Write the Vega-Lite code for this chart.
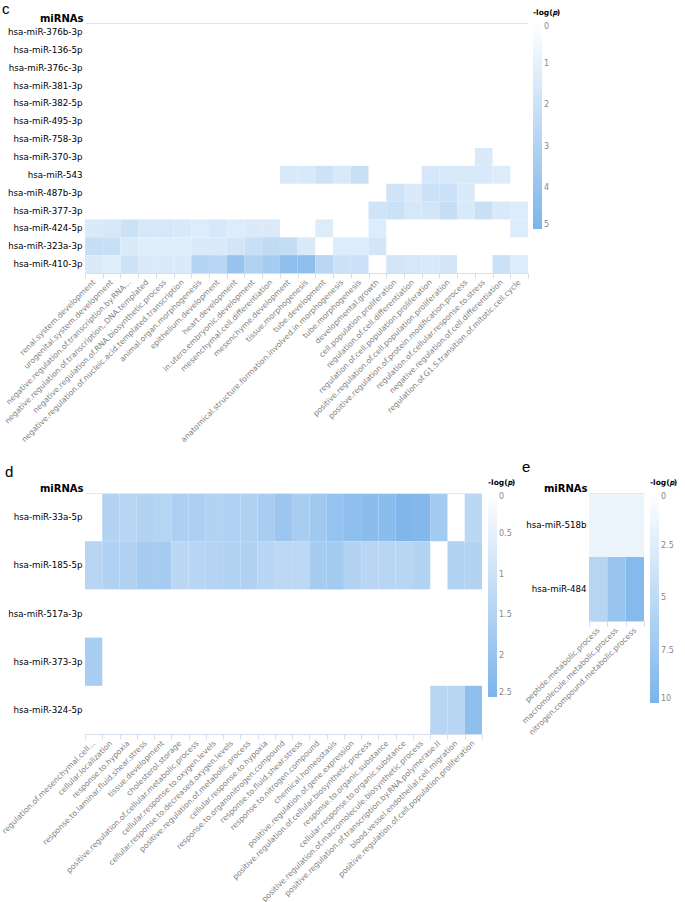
{
  "$schema": "https://vega.github.io/schema/vega-lite/v6.json",
  "background": "white",
  "padding": {"left": 0, "right": 0, "top": 2, "bottom": 0},
  "config": {
    "font": "DejaVu Sans",
    "view": {"stroke": null},
    "title": {"fontSize": 15, "fontWeight": "normal", "font": "Liberation Sans", "anchor": "start", "frame": "group", "offset": 0, "color": "#000"},
    "axisX": {"labelAngle": -45, "labelAlign": "right", "labelBaseline": "middle", "labelFontSize": 7.7, "labelColor": "#808080", "tickColor": "#d5deeb", "domainColor": "#d5deeb", "tickSize": 5, "tickBand": "extent", "title": null, "labelPadding": 3, "labelLimit": 400, "grid": false},
    "axisY": {"labelFontSize": 8.7, "labelColor": "#000", "ticks": false, "domain": false, "labelPadding": 3, "titleAngle": 0, "titleAlign": "right", "titleBaseline": "bottom", "titleFontSize": 10, "titleFontWeight": "bold", "titleColor": "#000", "titleX": -2, "titleY": 0, "labelLimit": 200, "grid": false},
    "legend": {"gradientThickness": 9, "titleFontSize": 7.5, "titleFontWeight": "bold", "titleColor": "#000", "labelFontSize": 8, "labelColor": "#888", "labelOffset": 10, "labelBaseline": "middle", "gradientStrokeWidth": 0, "titlePadding": 6.5, "padding": 0, "labelOverlap": false}
  },
  "datasets": {
    "c": [
      {"miRNA": "hsa-miR-370-3p", "term": "regulation.of.cellular.response.to.stress", "logp": 1.4},
      {"miRNA": "hsa-miR-543", "term": "mesenchyme.development", "logp": 1.5},
      {"miRNA": "hsa-miR-543", "term": "tissue.morphogenesis", "logp": 1.5},
      {"miRNA": "hsa-miR-543", "term": "tube.development", "logp": 1.9},
      {"miRNA": "hsa-miR-543", "term": "anatomical.structure.formation.involved.in.morphogenesis", "logp": 1.5},
      {"miRNA": "hsa-miR-543", "term": "tube.morphogenesis", "logp": 2.1},
      {"miRNA": "hsa-miR-543", "term": "regulation.of.cell.population.proliferation", "logp": 1.6},
      {"miRNA": "hsa-miR-543", "term": "positive.regulation.of.cell.population.proliferation", "logp": 1.5},
      {"miRNA": "hsa-miR-543", "term": "positive.regulation.of.protein.modification.process", "logp": 1.5},
      {"miRNA": "hsa-miR-543", "term": "regulation.of.cellular.response.to.stress", "logp": 1.5},
      {"miRNA": "hsa-miR-543", "term": "negative.regulation.of.cell.differentiation", "logp": 1.3},
      {"miRNA": "hsa-miR-487b-3p", "term": "cell.population.proliferation", "logp": 1.8},
      {"miRNA": "hsa-miR-487b-3p", "term": "regulation.of.cell.differentiation", "logp": 1.4},
      {"miRNA": "hsa-miR-487b-3p", "term": "regulation.of.cell.population.proliferation", "logp": 2.0},
      {"miRNA": "hsa-miR-487b-3p", "term": "positive.regulation.of.cell.population.proliferation", "logp": 2.0},
      {"miRNA": "hsa-miR-487b-3p", "term": "positive.regulation.of.protein.modification.process", "logp": 1.4},
      {"miRNA": "hsa-miR-377-3p", "term": "developmental.growth", "logp": 1.8},
      {"miRNA": "hsa-miR-377-3p", "term": "cell.population.proliferation", "logp": 2.0},
      {"miRNA": "hsa-miR-377-3p", "term": "regulation.of.cell.differentiation", "logp": 1.6},
      {"miRNA": "hsa-miR-377-3p", "term": "regulation.of.cell.population.proliferation", "logp": 1.7},
      {"miRNA": "hsa-miR-377-3p", "term": "positive.regulation.of.cell.population.proliferation", "logp": 2.2},
      {"miRNA": "hsa-miR-377-3p", "term": "positive.regulation.of.protein.modification.process", "logp": 1.5},
      {"miRNA": "hsa-miR-377-3p", "term": "regulation.of.cellular.response.to.stress", "logp": 2.1},
      {"miRNA": "hsa-miR-377-3p", "term": "negative.regulation.of.cell.differentiation", "logp": 1.5},
      {"miRNA": "hsa-miR-377-3p", "term": "regulation.of.G1.S.transition.of.mitotic.cell.cycle", "logp": 1.3},
      {"miRNA": "hsa-miR-424-5p", "term": "renal.system.development", "logp": 1.4},
      {"miRNA": "hsa-miR-424-5p", "term": "urogenital.system.development", "logp": 1.6},
      {"miRNA": "hsa-miR-424-5p", "term": "negative.regulation.of.transcription.by.RNA...", "logp": 2.0},
      {"miRNA": "hsa-miR-424-5p", "term": "negative.regulation.of.transcription,.DNA.templated", "logp": 1.6},
      {"miRNA": "hsa-miR-424-5p", "term": "negative.regulation.of.RNA.biosynthetic.process", "logp": 1.6},
      {"miRNA": "hsa-miR-424-5p", "term": "negative.regulation.of.nucleic.acid.templated.transcription", "logp": 1.5},
      {"miRNA": "hsa-miR-424-5p", "term": "animal.organ.morphogenesis", "logp": 1.3},
      {"miRNA": "hsa-miR-424-5p", "term": "epithelium.development", "logp": 1.6},
      {"miRNA": "hsa-miR-424-5p", "term": "heart.development", "logp": 1.3},
      {"miRNA": "hsa-miR-424-5p", "term": "in.utero.embryonic.development", "logp": 1.4},
      {"miRNA": "hsa-miR-424-5p", "term": "mesenchymal.cell.differentiation", "logp": 1.4},
      {"miRNA": "hsa-miR-424-5p", "term": "tube.development", "logp": 1.3},
      {"miRNA": "hsa-miR-424-5p", "term": "developmental.growth", "logp": 1.3},
      {"miRNA": "hsa-miR-424-5p", "term": "regulation.of.G1.S.transition.of.mitotic.cell.cycle", "logp": 1.3},
      {"miRNA": "hsa-miR-323a-3p", "term": "renal.system.development", "logp": 2.2},
      {"miRNA": "hsa-miR-323a-3p", "term": "urogenital.system.development", "logp": 2.1},
      {"miRNA": "hsa-miR-323a-3p", "term": "negative.regulation.of.transcription.by.RNA...", "logp": 1.4},
      {"miRNA": "hsa-miR-323a-3p", "term": "negative.regulation.of.transcription,.DNA.templated", "logp": 1.2},
      {"miRNA": "hsa-miR-323a-3p", "term": "negative.regulation.of.RNA.biosynthetic.process", "logp": 1.2},
      {"miRNA": "hsa-miR-323a-3p", "term": "negative.regulation.of.nucleic.acid.templated.transcription", "logp": 1.2},
      {"miRNA": "hsa-miR-323a-3p", "term": "animal.organ.morphogenesis", "logp": 1.4},
      {"miRNA": "hsa-miR-323a-3p", "term": "epithelium.development", "logp": 1.4},
      {"miRNA": "hsa-miR-323a-3p", "term": "heart.development", "logp": 1.7},
      {"miRNA": "hsa-miR-323a-3p", "term": "in.utero.embryonic.development", "logp": 2.1},
      {"miRNA": "hsa-miR-323a-3p", "term": "mesenchymal.cell.differentiation", "logp": 2.4},
      {"miRNA": "hsa-miR-323a-3p", "term": "mesenchyme.development", "logp": 2.3},
      {"miRNA": "hsa-miR-323a-3p", "term": "tissue.morphogenesis", "logp": 1.4},
      {"miRNA": "hsa-miR-323a-3p", "term": "anatomical.structure.formation.involved.in.morphogenesis", "logp": 1.3},
      {"miRNA": "hsa-miR-323a-3p", "term": "tube.morphogenesis", "logp": 1.3},
      {"miRNA": "hsa-miR-323a-3p", "term": "developmental.growth", "logp": 1.7},
      {"miRNA": "hsa-miR-410-3p", "term": "renal.system.development", "logp": 1.4},
      {"miRNA": "hsa-miR-410-3p", "term": "urogenital.system.development", "logp": 1.2},
      {"miRNA": "hsa-miR-410-3p", "term": "negative.regulation.of.transcription.by.RNA...", "logp": 1.9},
      {"miRNA": "hsa-miR-410-3p", "term": "negative.regulation.of.transcription,.DNA.templated", "logp": 1.4},
      {"miRNA": "hsa-miR-410-3p", "term": "negative.regulation.of.RNA.biosynthetic.process", "logp": 1.4},
      {"miRNA": "hsa-miR-410-3p", "term": "negative.regulation.of.nucleic.acid.templated.transcription", "logp": 1.4},
      {"miRNA": "hsa-miR-410-3p", "term": "animal.organ.morphogenesis", "logp": 2.9},
      {"miRNA": "hsa-miR-410-3p", "term": "epithelium.development", "logp": 2.7},
      {"miRNA": "hsa-miR-410-3p", "term": "heart.development", "logp": 4.0},
      {"miRNA": "hsa-miR-410-3p", "term": "in.utero.embryonic.development", "logp": 3.0},
      {"miRNA": "hsa-miR-410-3p", "term": "mesenchymal.cell.differentiation", "logp": 3.4},
      {"miRNA": "hsa-miR-410-3p", "term": "mesenchyme.development", "logp": 4.3},
      {"miRNA": "hsa-miR-410-3p", "term": "tissue.morphogenesis", "logp": 4.3},
      {"miRNA": "hsa-miR-410-3p", "term": "tube.development", "logp": 2.7},
      {"miRNA": "hsa-miR-410-3p", "term": "anatomical.structure.formation.involved.in.morphogenesis", "logp": 2.0},
      {"miRNA": "hsa-miR-410-3p", "term": "tube.morphogenesis", "logp": 2.0},
      {"miRNA": "hsa-miR-410-3p", "term": "cell.population.proliferation", "logp": 1.7},
      {"miRNA": "hsa-miR-410-3p", "term": "regulation.of.cell.differentiation", "logp": 1.6},
      {"miRNA": "hsa-miR-410-3p", "term": "regulation.of.cell.population.proliferation", "logp": 1.5},
      {"miRNA": "hsa-miR-410-3p", "term": "positive.regulation.of.cell.population.proliferation", "logp": 1.7},
      {"miRNA": "hsa-miR-410-3p", "term": "negative.regulation.of.cell.differentiation", "logp": 2.0},
      {"miRNA": "hsa-miR-410-3p", "term": "regulation.of.G1.S.transition.of.mitotic.cell.cycle", "logp": 1.3}
    ],
    "d": [
      {"miRNA": "hsa-miR-33a-5p", "term": "cellular.localization", "logp": 1.46},
      {"miRNA": "hsa-miR-33a-5p", "term": "response.to.hypoxia", "logp": 1.37},
      {"miRNA": "hsa-miR-33a-5p", "term": "response.to.laminar.fluid.shear.stress", "logp": 1.46},
      {"miRNA": "hsa-miR-33a-5p", "term": "tissue.development", "logp": 1.4},
      {"miRNA": "hsa-miR-33a-5p", "term": "cholesterol.storage", "logp": 1.6},
      {"miRNA": "hsa-miR-33a-5p", "term": "positive.regulation.of.cellular.metabolic.process", "logp": 1.6},
      {"miRNA": "hsa-miR-33a-5p", "term": "cellular.response.to.oxygen.levels", "logp": 1.46},
      {"miRNA": "hsa-miR-33a-5p", "term": "cellular.response.to.decreased.oxygen.levels", "logp": 1.52},
      {"miRNA": "hsa-miR-33a-5p", "term": "positive.regulation.of.metabolic.process", "logp": 1.52},
      {"miRNA": "hsa-miR-33a-5p", "term": "cellular.response.to.hypoxia", "logp": 1.67},
      {"miRNA": "hsa-miR-33a-5p", "term": "response.to.organonitrogen.compound", "logp": 1.9},
      {"miRNA": "hsa-miR-33a-5p", "term": "response.to.fluid.shear.stress", "logp": 1.67},
      {"miRNA": "hsa-miR-33a-5p", "term": "response.to.nitrogen.compound", "logp": 1.8},
      {"miRNA": "hsa-miR-33a-5p", "term": "chemical.homeostasis", "logp": 2.04},
      {"miRNA": "hsa-miR-33a-5p", "term": "positive.regulation.of.gene.expression", "logp": 2.17},
      {"miRNA": "hsa-miR-33a-5p", "term": "positive.regulation.of.cellular.biosynthetic.process", "logp": 2.25},
      {"miRNA": "hsa-miR-33a-5p", "term": "response.to.organic.substance", "logp": 2.25},
      {"miRNA": "hsa-miR-33a-5p", "term": "cellular.response.to.organic.substance", "logp": 2.45},
      {"miRNA": "hsa-miR-33a-5p", "term": "positive.regulation.of.macromolecule.biosynthetic.process", "logp": 2.37},
      {"miRNA": "hsa-miR-33a-5p", "term": "positive.regulation.of.transcription.by.RNA.polymerase.II", "logp": 1.77},
      {"miRNA": "hsa-miR-33a-5p", "term": "positive.regulation.of.cell.population.proliferation", "logp": 1.33},
      {"miRNA": "hsa-miR-185-5p", "term": "regulation.of.mesenchymal.cell...", "logp": 1.37},
      {"miRNA": "hsa-miR-185-5p", "term": "cellular.localization", "logp": 1.52},
      {"miRNA": "hsa-miR-185-5p", "term": "response.to.hypoxia", "logp": 1.52},
      {"miRNA": "hsa-miR-185-5p", "term": "response.to.laminar.fluid.shear.stress", "logp": 1.7},
      {"miRNA": "hsa-miR-185-5p", "term": "tissue.development", "logp": 1.7},
      {"miRNA": "hsa-miR-185-5p", "term": "cholesterol.storage", "logp": 1.33},
      {"miRNA": "hsa-miR-185-5p", "term": "positive.regulation.of.cellular.metabolic.process", "logp": 1.37},
      {"miRNA": "hsa-miR-185-5p", "term": "cellular.response.to.oxygen.levels", "logp": 1.42},
      {"miRNA": "hsa-miR-185-5p", "term": "cellular.response.to.decreased.oxygen.levels", "logp": 1.46},
      {"miRNA": "hsa-miR-185-5p", "term": "positive.regulation.of.metabolic.process", "logp": 1.52},
      {"miRNA": "hsa-miR-185-5p", "term": "cellular.response.to.hypoxia", "logp": 1.37},
      {"miRNA": "hsa-miR-185-5p", "term": "response.to.organonitrogen.compound", "logp": 1.29},
      {"miRNA": "hsa-miR-185-5p", "term": "response.to.fluid.shear.stress", "logp": 1.29},
      {"miRNA": "hsa-miR-185-5p", "term": "response.to.nitrogen.compound", "logp": 1.7},
      {"miRNA": "hsa-miR-185-5p", "term": "chemical.homeostasis", "logp": 1.77},
      {"miRNA": "hsa-miR-185-5p", "term": "positive.regulation.of.gene.expression", "logp": 1.46},
      {"miRNA": "hsa-miR-185-5p", "term": "positive.regulation.of.cellular.biosynthetic.process", "logp": 1.37},
      {"miRNA": "hsa-miR-185-5p", "term": "response.to.organic.substance", "logp": 1.37},
      {"miRNA": "hsa-miR-185-5p", "term": "cellular.response.to.organic.substance", "logp": 1.37},
      {"miRNA": "hsa-miR-185-5p", "term": "positive.regulation.of.macromolecule.biosynthetic.process", "logp": 1.46},
      {"miRNA": "hsa-miR-185-5p", "term": "blood.vessel.endothelial.cell.migration", "logp": 1.46},
      {"miRNA": "hsa-miR-185-5p", "term": "positive.regulation.of.cell.population.proliferation", "logp": 1.46},
      {"miRNA": "hsa-miR-373-3p", "term": "regulation.of.mesenchymal.cell...", "logp": 1.67},
      {"miRNA": "hsa-miR-324-5p", "term": "positive.regulation.of.transcription.by.RNA.polymerase.II", "logp": 1.37},
      {"miRNA": "hsa-miR-324-5p", "term": "blood.vessel.endothelial.cell.migration", "logp": 1.37},
      {"miRNA": "hsa-miR-324-5p", "term": "positive.regulation.of.cell.population.proliferation", "logp": 2.15}
    ],
    "e": [
      {"miRNA": "hsa-miR-518b", "term": "peptide.metabolic.process", "logp": 1.5},
      {"miRNA": "hsa-miR-518b", "term": "macromolecule.metabolic.process", "logp": 1.5},
      {"miRNA": "hsa-miR-518b", "term": "nitrogen.compound.metabolic.process", "logp": 1.5},
      {"miRNA": "hsa-miR-484", "term": "peptide.metabolic.process", "logp": 5.6},
      {"miRNA": "hsa-miR-484", "term": "macromolecule.metabolic.process", "logp": 7.9},
      {"miRNA": "hsa-miR-484", "term": "nitrogen.compound.metabolic.process", "logp": 9.2}
    ]
  },
  "spacing": 16,
  "resolve": {"scale": {"color": "independent"}, "legend": {"color": "independent"}},
  "vconcat": [
    {
      "title": {"text": "c", "dx": -83, "dy": 12},
      "width": 443,
      "height": 250,
      "data": {"name": "c"},
      "layer": [
        {
          "mark": {"type": "rect"},
          "encoding": {
            "x": {"field": "term", "type": "nominal", "sort": null, "scale": {"domain": ["renal.system.development", "urogenital.system.development", "negative.regulation.of.transcription.by.RNA...", "negative.regulation.of.transcription,.DNA.templated", "negative.regulation.of.RNA.biosynthetic.process", "negative.regulation.of.nucleic.acid.templated.transcription", "animal.organ.morphogenesis", "epithelium.development", "heart.development", "in.utero.embryonic.development", "mesenchymal.cell.differentiation", "mesenchyme.development", "tissue.morphogenesis", "tube.development", "anatomical.structure.formation.involved.in.morphogenesis", "tube.morphogenesis", "developmental.growth", "cell.population.proliferation", "regulation.of.cell.differentiation", "regulation.of.cell.population.proliferation", "positive.regulation.of.cell.population.proliferation", "positive.regulation.of.protein.modification.process", "regulation.of.cellular.response.to.stress", "negative.regulation.of.cell.differentiation", "regulation.of.G1.S.transition.of.mitotic.cell.cycle"]}},
            "y": {"field": "miRNA", "type": "nominal", "sort": null, "title": "miRNAs", "scale": {"domain": ["hsa-miR-376b-3p", "hsa-miR-136-5p", "hsa-miR-376c-3p", "hsa-miR-381-3p", "hsa-miR-382-5p", "hsa-miR-495-3p", "hsa-miR-758-3p", "hsa-miR-370-3p", "hsa-miR-543", "hsa-miR-487b-3p", "hsa-miR-377-3p", "hsa-miR-424-5p", "hsa-miR-323a-3p", "hsa-miR-410-3p"]}},
            "color": {"field": "logp", "type": "quantitative", "scale": {"domain": [5, 0], "range": ["#7db4ea", "#ffffff"], "interpolate": "rgb"}, "legend": {"title": "-log(𝑝)", "orient": "none", "legendX": 448, "legendY": -14, "gradientLength": 206, "values": [0, 1, 2, 3, 4, 5], "format": ".2~g"}}
          }
        },
        {
          "mark": {"type": "rect", "opacity": 0},
          "encoding": {
            "x": {"field": "term", "type": "nominal", "sort": null, "axis": {"orient": "top", "labels": false, "ticks": false, "domainColor": "#e4e4e4"}}
          }
        }
      ],
      "resolve": {"axis": {"x": "independent"}}
    },
    {
      "spacing": 4,
      "resolve": {"scale": {"color": "independent"}, "legend": {"color": "independent"}},
      "hconcat": [
        {
          "title": {"text": "d", "dx": -80, "dy": 5},
          "width": 397,
          "height": 241,
          "data": {"name": "d"},
          "layer": [
            {
              "mark": {"type": "rect"},
              "encoding": {
                "x": {"field": "term", "type": "nominal", "sort": null, "scale": {"domain": ["regulation.of.mesenchymal.cell...", "cellular.localization", "response.to.hypoxia", "response.to.laminar.fluid.shear.stress", "tissue.development", "cholesterol.storage", "positive.regulation.of.cellular.metabolic.process", "cellular.response.to.oxygen.levels", "cellular.response.to.decreased.oxygen.levels", "positive.regulation.of.metabolic.process", "cellular.response.to.hypoxia", "response.to.organonitrogen.compound", "response.to.fluid.shear.stress", "response.to.nitrogen.compound", "chemical.homeostasis", "positive.regulation.of.gene.expression", "positive.regulation.of.cellular.biosynthetic.process", "response.to.organic.substance", "cellular.response.to.organic.substance", "positive.regulation.of.macromolecule.biosynthetic.process", "positive.regulation.of.transcription.by.RNA.polymerase.II", "blood.vessel.endothelial.cell.migration", "positive.regulation.of.cell.population.proliferation"]}},
                "y": {"field": "miRNA", "type": "nominal", "sort": null, "title": "miRNAs", "scale": {"domain": ["hsa-miR-33a-5p", "hsa-miR-185-5p", "hsa-miR-517a-3p", "hsa-miR-373-3p", "hsa-miR-324-5p"]}},
                "color": {"field": "logp", "type": "quantitative", "scale": {"domain": [2.5, 0], "range": ["#7db4ea", "#ffffff"], "interpolate": "rgb"}, "legend": {"title": "-log(𝑝)", "orient": "none", "legendX": 403, "legendY": -14, "gradientLength": 204, "values": [0, 0.5, 1, 1.5, 2, 2.5], "format": ".2~g"}}
              }
            },
            {
              "mark": {"type": "rect", "opacity": 0},
              "encoding": {
                "x": {"field": "term", "type": "nominal", "sort": null, "axis": {"orient": "top", "labels": false, "ticks": false, "domainColor": "#e4e8f0"}}
              }
            }
          ],
          "resolve": {"axis": {"x": "independent"}}
        },
        {
          "title": {"text": "e", "dx": -67, "dy": 0},
          "width": 55,
          "height": 128,
          "data": {"name": "e"},
          "layer": [
            {
              "mark": {"type": "rect"},
              "encoding": {
                "x": {"field": "term", "type": "nominal", "sort": null, "scale": {"domain": ["peptide.metabolic.process", "macromolecule.metabolic.process", "nitrogen.compound.metabolic.process"]}},
                "y": {"field": "miRNA", "type": "nominal", "sort": null, "title": "miRNAs", "scale": {"domain": ["hsa-miR-518b", "hsa-miR-484"]}},
                "color": {"field": "logp", "type": "quantitative", "scale": {"domain": [10, 0], "range": ["#7db4ea", "#ffffff"], "interpolate": "rgb"}, "legend": {"title": "-log(𝑝)", "orient": "none", "legendX": 61, "legendY": -14, "gradientLength": 210, "values": [0, 2.5, 5, 7.5, 10], "format": ".2~g"}}
              }
            },
            {
              "mark": {"type": "rect", "opacity": 0},
              "encoding": {
                "x": {"field": "term", "type": "nominal", "sort": null, "axis": {"orient": "top", "labels": false, "ticks": false, "domainColor": "#e4e8f0"}}
              }
            }
          ],
          "resolve": {"axis": {"x": "independent"}}
        }
      ]
    }
  ]
}
